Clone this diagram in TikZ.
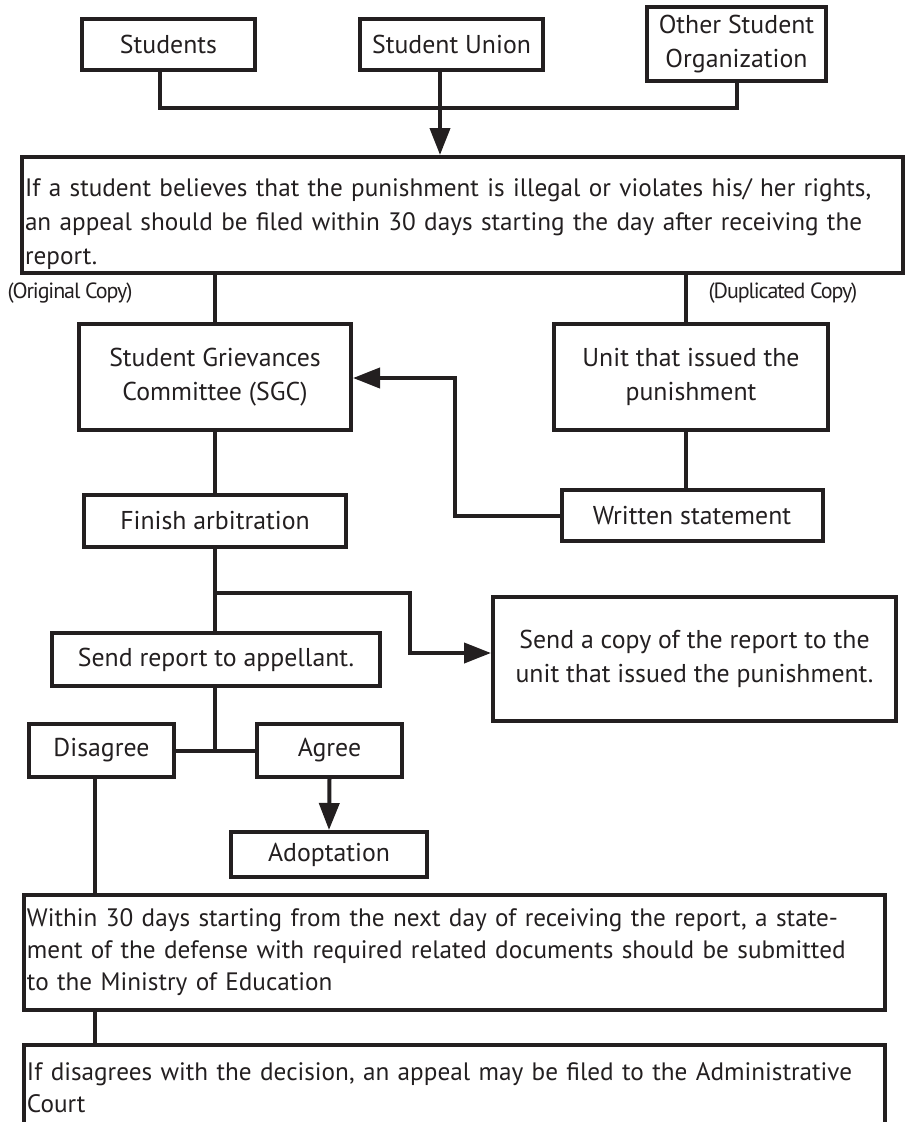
\documentclass[tikz,border=0pt]{standalone}
\usepackage{fontspec}
\setmainfont{PT Sans}
\newfontfamily\tightfont[LetterSpace=-5]{PT Sans}
\usetikzlibrary{arrows.meta}
\definecolor{ink}{HTML}{231F20}
\begin{document}
\begin{tikzpicture}[x=1pt,y=-1pt,
  box/.style={draw=ink, text=ink, line width=4pt, inner sep=3pt, align=center,
    font=\fontsize{25.8}{34}\selectfont},
  wbox/.style={box, align=left, inner xsep=3pt, font=\fontsize{25.2}{34}\selectfont},
  conn/.style={draw=ink, line width=4pt, line join=miter},
  arr/.style={conn, -{Triangle[length=27pt,width=20pt]}},
  note/.style={text=ink, inner sep=0pt, font=\tightfont\fontsize{22}{24}\selectfont}]
\useasboundingbox (0,0) rectangle (910,1122);
\clip (0,0) rectangle (910,1122);
% top sources
\node[box, minimum width=173pt, minimum height=51pt] (stu) at (168.5,44.5) {Students};
\node[box, minimum width=183pt, minimum height=51pt] (su) at (451.5,44.5) {Student Union};
\node[box, minimum width=179pt, minimum height=74pt] (oso) at (736.5,44) {Other Student\\Organization};
% appeal box
\node[wbox, text width=875pt, minimum height=116pt] (b1) at (462.5,215)
  {\rule{0pt}{36pt}If a student believes that the punishment is illegal or violates his/ her rights,\\an appeal should be filed within 30 days starting the day after receiving the\\report.};
\node[note] (orig) at (70,293) {(Original Copy)};
\node[note] (dup) at (783,293) {(Duplicated Copy)};
% committee and unit
\node[box, minimum width=272pt, minimum height=106pt] (sgc) at (215,377) {Student Grievances\\Committee (SGC)};
\node[box, minimum width=274pt, minimum height=106pt] (unit) at (691,377) {Unit that issued the\\punishment};
\node[box, minimum width=261pt, minimum height=51pt] (ws) at (692,515.5) {Written statement};
\node[box, minimum width=262pt, minimum height=52pt] (fin) at (215,521) {Finish arbitration};
\node[box, minimum width=403pt, minimum height=124pt] (copy) at (694.5,659) {Send a copy of the report to the\\unit that issued the punishment.};
\node[box, minimum width=328pt, minimum height=53pt] (send) at (216,659.5) {Send report to appellant.};
\node[box, minimum width=145pt, minimum height=53pt] (dis) at (101.5,750.5) {Disagree};
\node[box, minimum width=145pt, minimum height=53pt] (agree) at (329.5,750.5) {Agree};
\node[box, minimum width=196pt, minimum height=45pt] (adopt) at (329,854.5) {Adoptation};
\node[wbox, text width=855pt, minimum height=115pt, font=\fontsize{25.2}{32}\selectfont] (b3) at (454.5,952.5)
  {Within 30 days starting from the next day of receiving the report, a state-\\ment of the defense with required related documents should be submitted\\to the Ministry of Education};
\node[wbox, text width=855pt, minimum height=86pt, font=\fontsize{25.2}{32}\selectfont] (b4) at (454.5,1088)
  {If disagrees with the decision, an appeal may be filed to the Administrative\\Court};
% connectors
\coordinate (j1) at (440,108);
\draw[conn] ([xshift=-8.5pt]stu.south) |- (j1) -| (oso.south);
\draw[arr] ([xshift=-11.5pt]su.south) -- ([xshift=-11.5pt]su.south |- b1.north);
\draw[conn] (b1.south -| sgc.north) -- (sgc.north);
\draw[conn] ([xshift=-5pt]b1.south -| unit.north) -- ([xshift=-5pt]unit.north);
\draw[conn] (sgc.south) -- (fin.north);
\draw[conn] ([xshift=-5pt]unit.south) -- ([xshift=-5pt]unit.south |- ws.north);
\coordinate (c1) at (455,378);
\draw[arr] (ws.west) -| (c1) -- (c1 -| sgc.east);
\draw[conn] (fin.south) -- (fin.south |- send.north);
\coordinate (j2) at (215,593);
\coordinate (c2) at (410,653);
\draw[arr] (j2) -| (c2) -- (c2 -| copy.west);
\coordinate (j3) at (215,750.5);
\draw[conn] (send.south -| j3) -- (j3);
\draw[conn] (dis.east) -- (agree.west);
\draw[arr] (agree.south) -- (adopt.north);
\draw[conn] ([xshift=-6.5pt]dis.south) -- ([xshift=-6.5pt]dis.south |- b3.north);
\draw[conn] ([xshift=-6.5pt]dis.south |- b3.south) -- ([xshift=-6.5pt]dis.south |- b4.north);
\end{tikzpicture}
\end{document}
